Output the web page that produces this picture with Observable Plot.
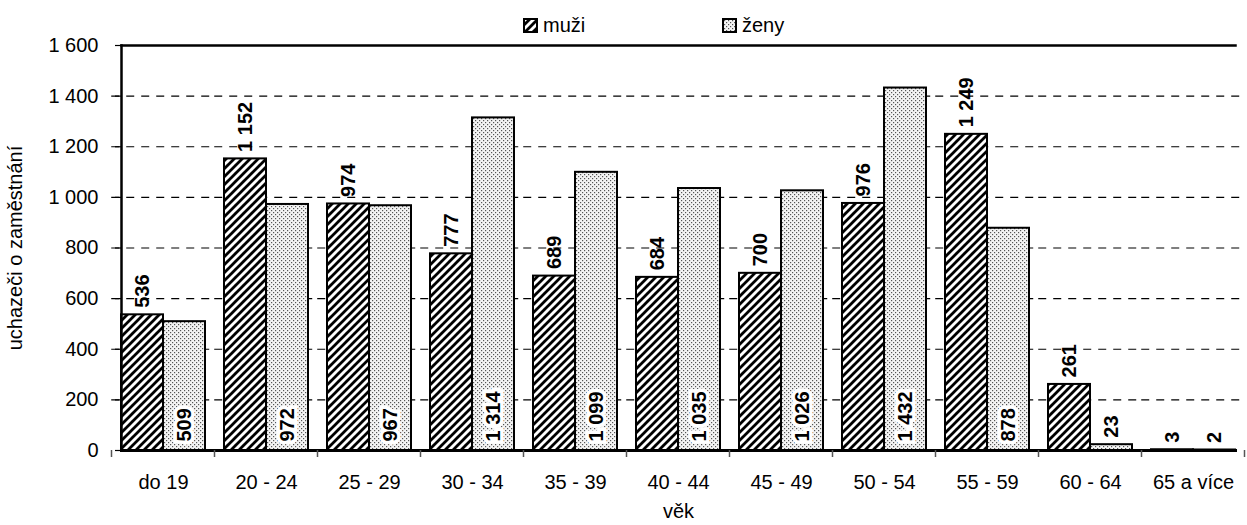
<!DOCTYPE html>
<html>
<head>
<meta charset="utf-8">
<script src="https://cdn.jsdelivr.net/npm/d3@7"></script>
<script src="https://cdn.jsdelivr.net/npm/@observablehq/plot@0.6"></script>
<style>
  body { margin: 0; background: white; font-family: Arial, "Liberation Sans", sans-serif; }
  #legend { position: relative; height: 40px; width: 1247px; font-size: 20px; }
  .item { position: absolute; top: 12px; height: 26px; display: flex; align-items: center; }
  .item svg { margin-right: 5px; }
</style>
</head>
<body>
<div id="legend"></div>
<div id="chart"></div>
<script>
const categories = ["do 19", "20 - 24", "25 - 29", "30 - 34", "35 - 39", "40 - 44", "45 - 49", "50 - 54", "55 - 59", "60 - 64", "65 a více"];
const series = ["muži", "ženy"];
const men = [536, 1152, 974, 777, 689, 684, 700, 976, 1249, 261, 3];
const women = [509, 972, 967, 1314, 1099, 1035, 1026, 1432, 878, 23, 2];
const yTicks = [0, 200, 400, 600, 800, 1000, 1200, 1400, 1600];
const gridTicks = [200, 400, 600, 800, 1000, 1200, 1400];

const data = categories.flatMap((c, i) => [
  {cat: c, sex: series[0], value: men[i]},
  {cat: c, sex: series[1], value: women[i]}
]);
const fmt = v => d3.format(",")(v).replace(/,/g, " ");
const menData = data.filter(d => d.sex === series[0]);
const womenData = data.filter(d => d.sex === series[1]);
const womenIn = womenData.filter(d => d.value >= 200);
const womenOut = womenData.filter(d => d.value < 200);

const patternDefs = `
  <pattern id="hatch" patternUnits="userSpaceOnUse" width="8" height="8">
    <rect width="8" height="8" fill="white"/>
    <path d="M-2,2 L2,-2 M0,8 L8,0 M6,10 L10,6" stroke="black" stroke-width="2.8"/>
  </pattern>
  <pattern id="dots" patternUnits="userSpaceOnUse" width="4" height="4">
    <rect width="4" height="4" fill="#f4f4f4"/>
    <rect x="0" y="0" width="1.2" height="1.2" fill="#555"/>
    <rect x="2" y="2" width="1.2" height="1.2" fill="#555"/>
  </pattern>`;

const PAD_IN = 0.18, PAD_OUT = 0.09;
const halfGap = (1134 / 11) * PAD_IN / 2 + 0.5;
const FS = 20;

const chart = Plot.plot({
  width: 1247,
  height: 485,
  marginTop: 5,
  marginLeft: 111,
  marginRight: 2,
  marginBottom: 75,
  style: {fontFamily: "Arial, 'Liberation Sans', sans-serif", fontSize: FS + "px", color: "black", background: "white", overflow: "visible"},
  fx: {domain: categories, paddingInner: PAD_IN, paddingOuter: PAD_OUT, label: null, axis: null},
  x: {domain: series, padding: 0, axis: null},
  y: {domain: [0, 1600], axis: null},
  marks: [
    Plot.ruleY(gridTicks, {stroke: "black", strokeWidth: 1.2, strokeDasharray: "8,7", insetLeft: -halfGap, insetRight: -halfGap}),
    Plot.barY(menData, {fx: "cat", x: "sex", y: "value", fill: "url(#hatch)", stroke: "black", strokeWidth: 2}),
    Plot.barY(womenData, {fx: "cat", x: "sex", y: "value", fill: "url(#dots)", stroke: "black", strokeWidth: 2}),
    Plot.text(menData, {fx: "cat", x: "sex", y: "value", text: d => fmt(d.value), rotate: -90, textAnchor: "start", lineAnchor: "middle", dy: -7, fontWeight: "bold", fontSize: FS}),
    Plot.text(womenOut, {fx: "cat", x: "sex", y: "value", text: d => fmt(d.value), rotate: -90, textAnchor: "start", lineAnchor: "middle", dy: -7, fontWeight: "bold", fontSize: FS}),
    Plot.text(womenIn, {fx: "cat", x: "sex", y: 0, text: d => fmt(d.value), rotate: -90, textAnchor: "start", lineAnchor: "middle", dy: -9, fontWeight: "bold", fontSize: FS, stroke: "white", strokeWidth: 7, strokeLinejoin: "miter", fill: "black"}),
    Plot.frame({facet: "super", anchor: "bottom", stroke: "black", strokeWidth: 3}),
    Plot.frame({facet: "super", anchor: "top", stroke: "black", strokeWidth: 2.5}),
    Plot.frame({facet: "super", anchor: "left", stroke: "black", strokeWidth: 2.5}),
    Plot.axisY(yTicks, {tickFormat: fmt, tickSize: 6, tickPadding: 17, fontSize: FS, stroke: "black", strokeWidth: 1.2, label: "uchazeči o zaměstnání", labelAnchor: "center", labelArrow: "none", labelOffset: 114}),
    Plot.axisFx({anchor: "bottom", tickSize: 0, tickPadding: 24, fontSize: FS, label: "věk", labelAnchor: "center", labelArrow: "none", labelOffset: 67})
  ]
});

d3.select(chart).insert("defs", ":first-child").html(patternDefs);

// category boundary ticks on the x axis, from the library's fx scale
const fx = chart.scale("fx");
const y = chart.scale("y");
const step = fx.step !== undefined ? fx.step : fx.bandwidth / (1 - PAD_IN);
const gap = (step - fx.bandwidth) / 2;
const bounds = categories.map(c => fx.apply(c) - gap).concat([fx.apply(categories[categories.length - 1]) + fx.bandwidth + gap]);
d3.select(chart).append("g")
  .selectAll("line").data(bounds).join("line")
  .attr("x1", d => d).attr("x2", d => d)
  .attr("y1", y.apply(0)).attr("y2", y.apply(0) + 7)
  .attr("stroke", "#555").attr("stroke-width", 1.5);

document.getElementById("chart").appendChild(chart);

// legend
const legend = d3.select("#legend");
const items = [{name: series[0], left: 523}, {name: series[1], left: 722}];
items.forEach(it => {
  const div = legend.append("div").attr("class", "item").style("left", it.left + "px");
  const s = div.append("svg").attr("width", 15).attr("height", 15);
  s.append("rect").attr("x", 1).attr("y", 1).attr("width", 13).attr("height", 13)
    .attr("fill", it.name === series[0] ? "url(#hatch)" : "url(#dots)").attr("stroke", "black").attr("stroke-width", 2);
  div.append("span").text(it.name);
});
</script>
</body>
</html>
